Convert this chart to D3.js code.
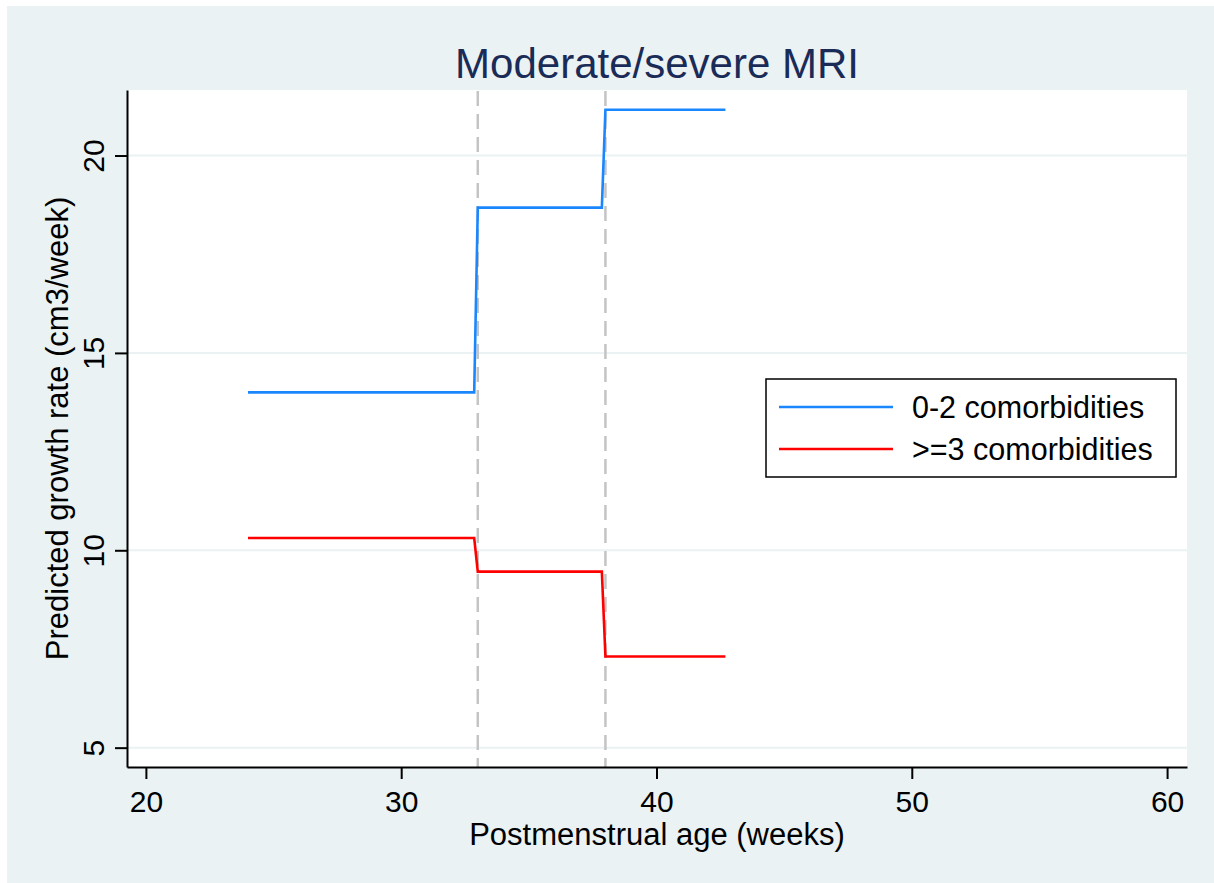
<!DOCTYPE html>
<html>
<head>
<meta charset="utf-8">
<script src="https://cdn.jsdelivr.net/npm/d3@7"></script>
<style>
  body { margin: 0; background: #fff; }
  svg text { font-family: "Liberation Sans", Arial, sans-serif; }
</style>
</head>
<body>
<div class="container"></div>
<script>
// data
var ageWeeks = [24, 32.86, 33, 37.86, 38, 42.7];
var rateLow = [14.0, 14.0, 18.68, 18.68, 21.16, 21.16];   // 0-2 comorbidities
var rateHigh = [10.31, 10.31, 9.46, 9.46, 7.31, 7.31];    // >=3 comorbidities
var seriesNames = ['0-2 comorbidities', '>=3 comorbidities'];
var seriesColors = ['#1a87ff', '#ff0000'];
var refLines = [33, 38];
var xTicks = [20, 30, 40, 50, 60];
var yTicks = [5, 10, 15, 20];

var w = 1214, h = 883;
var pLeft = 127, pRight = 1187, pTop = 90, pBottom = 767;

var svg = d3.select('.container')
  .append('svg')
  .attr('width', w)
  .attr('height', h);

svg.append('rect')
  .attr('x', 7).attr('y', 6)
  .attr('width', w - 7).attr('height', h - 6)
  .style('fill', '#eaf2f3');

svg.append('rect')
  .attr('x', pLeft).attr('y', pTop)
  .attr('width', pRight - pLeft).attr('height', pBottom - pTop)
  .style('fill', '#fff');

var xScale = d3.scaleLinear().domain([19.26, 60.78]).range([pLeft, pRight]);
var yScale = d3.scaleLinear().domain([4.51, 21.66]).range([pBottom, pTop]);

// gridlines
svg.selectAll('.grid')
  .data(yTicks)
  .enter()
  .append('line')
  .attr('class', 'grid')
  .attr('x1', pLeft).attr('x2', pRight)
  .attr('y1', d => yScale(d)).attr('y2', d => yScale(d))
  .style('stroke', '#eaf2f3')
  .style('stroke-width', 2);

// dashed reference lines
svg.selectAll('.ref')
  .data(refLines)
  .enter()
  .append('line')
  .attr('class', 'ref')
  .attr('x1', d => xScale(d)).attr('x2', d => xScale(d))
  .attr('y1', pTop + 1).attr('y2', pBottom)
  .style('stroke', '#c4c4c4')
  .style('stroke-width', 2.5)
  .style('stroke-dasharray', '15,8');

// series
var line = d3.line()
  .x((d, i) => xScale(ageWeeks[i]))
  .y(d => yScale(d));

[rateLow, rateHigh].forEach(function(s, k) {
  svg.append('path')
    .datum(s)
    .attr('d', line)
    .style('fill', 'none')
    .style('stroke', seriesColors[k])
    .style('stroke-width', 2.6);
});

// axes
var xAxis = d3.axisBottom(xScale)
  .tickValues(xTicks)
  .tickSize(12)
  .tickSizeOuter(0);

var xg = svg.append('g')
  .attr('transform', 'translate(0,' + pBottom + ')')
  .call(xAxis);
xg.selectAll('text')
  .attr('y', 45).attr('dy', 0)
  .style('font-size', '30px')
  .style('fill', '#000');

var yAxis = d3.axisLeft(yScale)
  .tickValues(yTicks)
  .tickSize(12)
  .tickSizeOuter(0);

var yg = svg.append('g')
  .attr('transform', 'translate(' + pLeft + ',0)')
  .call(yAxis);
yg.selectAll('text')
  .attr('transform', 'rotate(-90)')
  .attr('x', 0).attr('y', -23).attr('dy', 0)
  .attr('text-anchor', 'middle')
  .style('font-size', '30px')
  .style('fill', '#000');

[xg, yg].forEach(function(g) {
  g.select('.domain').style('stroke', '#000').style('stroke-width', 2);
  g.selectAll('.tick line').style('stroke', '#000').style('stroke-width', 2);
});

// titles
svg.append('text')
  .attr('x', (pLeft + pRight) / 2)
  .attr('y', 78)
  .attr('text-anchor', 'middle')
  .style('font-size', '42px')
  .style('fill', '#1a2b58')
  .text('Moderate/severe MRI');

svg.append('text')
  .attr('x', (pLeft + pRight) / 2)
  .attr('y', 845)
  .attr('text-anchor', 'middle')
  .style('font-size', '31px')
  .text('Postmenstrual age (weeks)');

svg.append('text')
  .attr('transform', 'translate(68,' + ((pTop + pBottom) / 2) + ') rotate(-90)')
  .attr('text-anchor', 'middle')
  .style('font-size', '31px')
  .text('Predicted growth rate (cm3/week)');

// legend
var legend = svg.append('g').attr('transform', 'translate(766,379)');
legend.append('rect')
  .attr('width', 410).attr('height', 98)
  .style('fill', '#fff')
  .style('stroke', '#000')
  .style('stroke-width', 1.5);

var items = legend.selectAll('.item')
  .data(seriesNames)
  .enter()
  .append('g')
  .attr('class', 'item')
  .attr('transform', (d, i) => 'translate(0,' + (28 + i * 42) + ')');

items.append('line')
  .attr('x1', 13).attr('x2', 127)
  .style('stroke', (d, i) => seriesColors[i])
  .style('stroke-width', 2.6);

items.append('text')
  .attr('x', 146).attr('y', 11)
  .style('font-size', '30.5px')
  .text(d => d);
</script>
</body>
</html>
